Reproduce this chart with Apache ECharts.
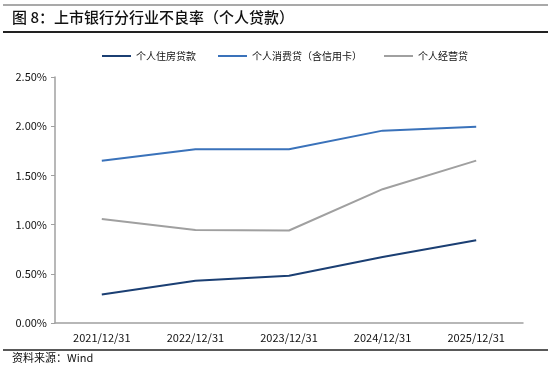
<!DOCTYPE html>
<html><head><meta charset="utf-8">
<script src="https://cdn.jsdelivr.net/npm/echarts@6/dist/echarts.min.js"></script>
<style>html,body{margin:0;padding:0;background:#fff}#c{width:550px;height:367px}</style>
</head><body><div id="c"></div>
<script>
var categories = ['2021/12/31','2022/12/31','2023/12/31','2024/12/31','2025/12/31'];
var housing = [0.29, 0.43, 0.48, 0.67, 0.84];
var consumer = [1.65, 1.765, 1.765, 1.955, 1.995];
var business = [1.057, 0.945, 0.94, 1.36, 1.65];
var yTicks = [0, 0.5, 1.0, 1.5, 2.0, 2.5];
var font = '"Noto Sans CJK SC", "Liberation Sans", sans-serif';
var chart = echarts.init(document.getElementById('c'));
chart.setOption({
  animation: false,
  backgroundColor: '#fff',
  textStyle: {fontFamily: font},
  graphic: [
    {type:'line', shape:{x1:3,y1:5,x2:548,y2:5}, style:{stroke:'#555', lineWidth:1.2}},
    {type:'line', shape:{x1:3,y1:32,x2:548,y2:32}, style:{stroke:'#222', lineWidth:2}},
    {type:'text', left:12, top:10, style:{text:'图 8：上市银行分行业不良率（个人贷款）', font:'500 15px ' + font, fill:'#111'}},
    {type:'line', shape:{x1:3,y1:350,x2:548,y2:350}, style:{stroke:'#222', lineWidth:1.5}},
    {type:'text', left:12, top:352, style:{text:'资料来源：Wind', font:'11px ' + font, fill:'#111'}}
  ],
  legend: {
    top: 46, left: 97, itemGap: 22, itemWidth: 29, itemHeight: 2,
    icon: 'rect',
    textStyle: {fontSize: 10, color: '#111', fontFamily: font},
    data: ['个人住房贷款','个人消费贷（含信用卡）','个人经营贷']
  },
  grid: {left: 55, right: 27, top: 77, bottom: 44},
  xAxis: {
    type: 'category', data: categories, boundaryGap: true,
    axisLine: {lineStyle: {color: '#a0a0a0', width: 1.5}},
    axisTick: {inside: true, length: 3, lineStyle: {color: '#a0a0a0'}},
    axisLabel: {color: '#111', fontSize: 11, margin: 9}
  },
  yAxis: {
    type: 'value', min: 0, max: 2.5, interval: 0.5,
    axisLine: {show: true, lineStyle: {color: '#a0a0a0', width: 1.5}},
    axisTick: {show: true, length: 4, lineStyle: {color: '#a0a0a0'}},
    splitLine: {show: false},
    axisLabel: {color: '#111', fontSize: 11, margin: 8, formatter: function(v){ return v.toFixed(2) + '%'; }}
  },
  series: [
    {name:'个人住房贷款', type:'line', data: housing, symbol:'none', lineStyle:{width:2, color:'#1B3F73'}, itemStyle:{color:'#1B3F73'}},
    {name:'个人消费贷（含信用卡）', type:'line', data: consumer, symbol:'none', lineStyle:{width:2, color:'#3A72BA'}, itemStyle:{color:'#3A72BA'}},
    {name:'个人经营贷', type:'line', data: business, symbol:'none', lineStyle:{width:2, color:'#A0A0A0'}, itemStyle:{color:'#A0A0A0'}}
  ]
});
</script></body></html>
